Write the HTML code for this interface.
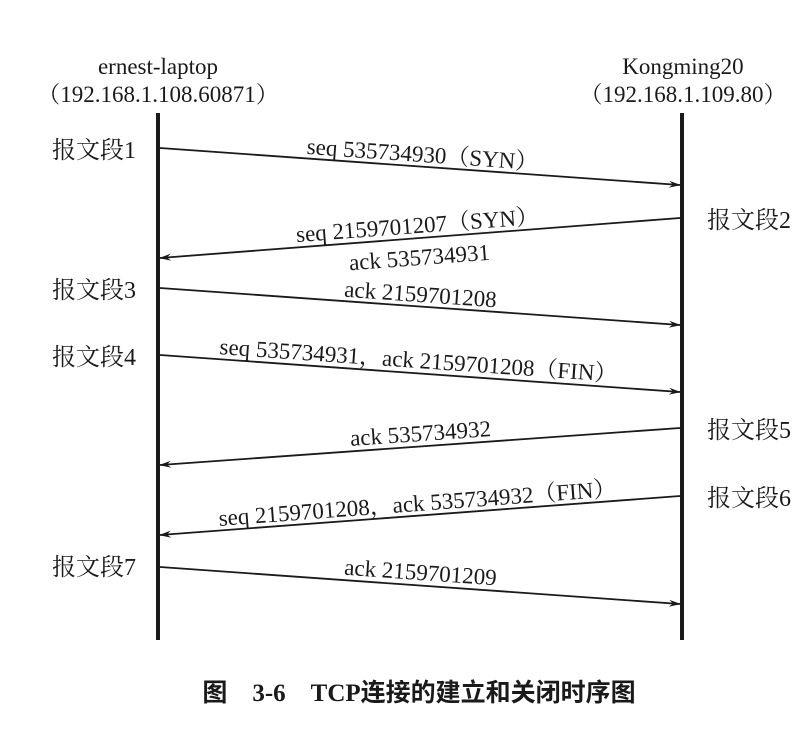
<!DOCTYPE html>
<html><head><meta charset="utf-8"><style>
html,body{margin:0;padding:0;background:#fff;}
svg{display:block;}
text{font-family:"Liberation Serif","Noto Serif CJK SC",serif;fill:#1a1a1a;}
.cn{font-family:"Liberation Serif","Noto Serif CJK SC",serif;}
.cap{font-family:"Liberation Serif","Noto Sans CJK SC",sans-serif;}
</style></head><body>
<svg width="812" height="729" viewBox="0 0 812 729" xmlns="http://www.w3.org/2000/svg">
<defs><marker id="a" markerWidth="12" markerHeight="8" refX="11" refY="4" orient="auto" markerUnits="userSpaceOnUse"><path d="M0,0.5 L12,4 L0,7.5 L4,4 Z" fill="#1a1a1a"/></marker></defs>
<g font-size="23" text-anchor="middle">
<text x="158" y="74">ernest-laptop</text>
<text x="158" y="102">（192.168.1.108.60871）</text>
<text x="683" y="74">Kongming20</text>
<text x="683" y="102">（192.168.1.109.80）</text>
</g>
<line x1="158" y1="113" x2="158" y2="640" stroke="#1a1a1a" stroke-width="4"/>
<line x1="682" y1="113" x2="682" y2="640" stroke="#1a1a1a" stroke-width="4"/>
<g stroke="#1a1a1a" stroke-width="1.8" marker-end="url(#a)">
<line x1="160" y1="148" x2="680" y2="185"/>
<line x1="680" y1="218" x2="160" y2="258"/>
<line x1="160" y1="288" x2="680" y2="325"/>
<line x1="160" y1="355" x2="680" y2="392"/>
<line x1="680" y1="428" x2="160" y2="465"/>
<line x1="680" y1="496" x2="160" y2="535"/>
<line x1="160" y1="567" x2="680" y2="604"/>
</g>
<g font-size="23" text-anchor="middle" class="cn">
<text transform="translate(422,162) rotate(4)">seq 535734930（SYN）</text>
<text transform="translate(418,233) rotate(-4.3)">seq 2159701207（SYN）</text>
<text transform="translate(420,265) rotate(-4.3)">ack 535734931</text>
<text transform="translate(420,302) rotate(4)">ack 2159701208</text>
<text transform="translate(418,368) rotate(4)">seq 535734931，ack 2159701208（FIN）</text>
<text transform="translate(421,441) rotate(-4)">ack 535734932</text>
<text transform="translate(418,511) rotate(-4.3)">seq 2159701208，ack 535734932（FIN）</text>
<text transform="translate(420,580) rotate(4)">ack 2159701209</text>
</g>
<g font-size="24" class="cn">
<text x="52" y="158">报文段1</text>
<text x="52" y="298">报文段3</text>
<text x="52" y="365">报文段4</text>
<text x="52" y="575">报文段7</text>
<text x="707" y="228">报文段2</text>
<text x="707" y="438">报文段5</text>
<text x="707" y="506">报文段6</text>
</g>
<text x="419" y="701" font-size="25" text-anchor="middle" class="cap" style="font-weight:bold">图　3-6　TCP连接的建立和关闭时序图</text>
</svg>
</body></html>
